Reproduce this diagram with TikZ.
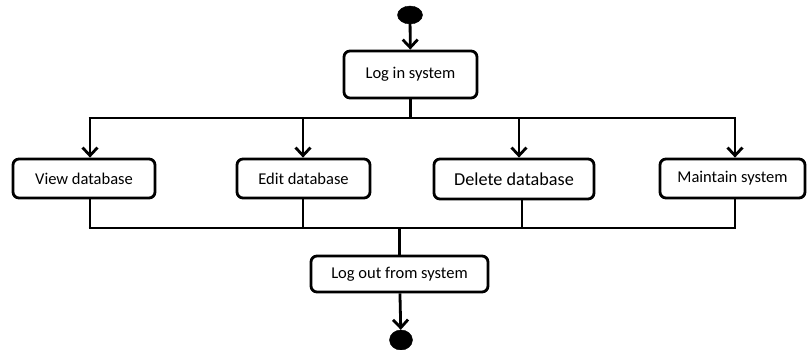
\documentclass[tikz,border=0pt]{standalone}
\usepackage{fontspec}
\setmainfont{Carlito}
\usetikzlibrary{arrows.meta,shapes.geometric}
\begin{document}
\begin{tikzpicture}[x=1pt,y=-1pt,
  box/.style={draw,line width=2.8pt,rounded corners=6pt,inner sep=0pt,font=\fontsize{16.5}{18}\selectfont},
  dot/.style={ellipse,fill=black,draw=black,inner sep=0pt},
  line/.style={line width=2.8pt},
  arr/.style={line width=2.8pt,-{Straight Barb[length=8pt,width=15pt]}}]
\useasboundingbox (0,0) rectangle (809,350);
\node[dot,minimum width=25pt,minimum height=18pt] (start) at (410,15) {};
\node[box,minimum width=133pt,minimum height=47pt] (login) at (410.5,74.5) {Log in system};
\node[box,minimum width=142pt,minimum height=39pt] (view) at (84,178.5) {View database};
\node[box,minimum width=133pt,minimum height=39pt] (edit) at (303.5,178.5) {Edit database};
\node[box,minimum width=160pt,minimum height=40pt,font=\fontsize{18.2}{20}\selectfont] (delete) at (514,179) {Delete database};
\node[box,minimum width=145pt,minimum height=39pt] (maint) at (732.5,178.5) {Maintain system};
\node[box,minimum width=177pt,minimum height=36pt] (logout) at (399.5,274) {Log out from system};
\node[dot,minimum width=23pt,minimum height=20pt] (end) at (401,340) {};
% top fork
\coordinate (t1) at (90,118);
\coordinate (t2) at (303,118);
\coordinate (t3) at (519,118);
\coordinate (t4) at (735,118);
\draw[arr] (start) -- (login);
\draw[line] (login.south) -- (login.south |- t1);
\draw[line] ([xshift=-1.4pt]t1) -- ([xshift=1.4pt]t4);
\draw[arr] (t1) -- (t1 |- view.north);
\draw[arr] (t2) -- (t2 |- edit.north);
\draw[arr] (t3) -- (t3 |- delete.north);
\draw[arr] (t4) -- (t4 |- maint.north);
% bottom join
\coordinate (u1) at (90,228);
\coordinate (u2) at (303,228);
\coordinate (u3) at (522,228);
\coordinate (u4) at (735,228);
\draw[line] (u1 |- view.south) -- (u1);
\draw[line] (u2 |- edit.south) -- (u2);
\draw[line] (u3 |- delete.south) -- (u3);
\draw[line] (u4 |- maint.south) -- (u4);
\draw[line] ([xshift=-1.4pt]u1) -- ([xshift=1.4pt]u4);
\draw[line] (logout.north) -- (logout.north |- u1);
\draw[arr] (logout) -- (end);
\end{tikzpicture}
\end{document}
